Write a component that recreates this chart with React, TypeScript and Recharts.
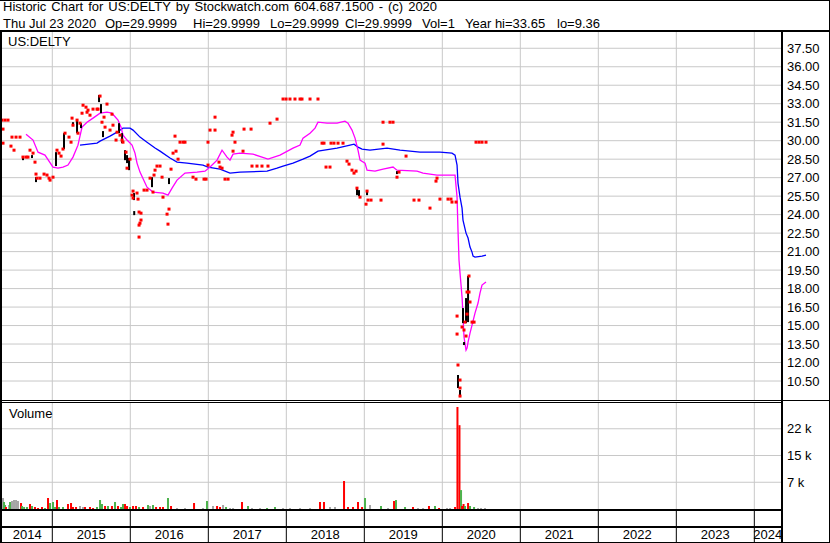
import {
  ComposedChart,
  Line,
  Scatter,
  ErrorBar,
  Bar,
  XAxis,
  YAxis,
  CartesianGrid,
  ReferenceLine,
} from 'recharts';

const FONT = '"Liberation Sans", Arial, sans-serif';

// time is in fractional years
const T_START = 2014.355;
const T_END = 2024.342;
const yearStarts = [2015, 2016, 2017, 2018, 2019, 2020, 2021, 2022, 2023, 2024];
const yearNames = [2014, 2015, 2016, 2017, 2018, 2019, 2020, 2021, 2022, 2023, 2024];
const priceTicks = [10.5, 12, 13.5, 15, 16.5, 18, 19.5, 21, 22.5, 24, 25.5, 27, 28.5, 30, 31.5, 33, 34.5, 36, 37.5];
const volumeTicks = [7500, 15000, 22500];

const titleText = 'Historic Chart for US:DELTY by Stockwatch.com 604.687.1500 - (c) 2020';
const quoteFields = [
  'Thu Jul 23 2020',
  'Op=29.9999',
  'Hi=29.9999',
  'Lo=29.9999',
  'Cl=29.9999',
  'Vol=1',
  'Year hi=33.65',
  'lo=9.36',
];
const quoteFieldLeft = [3, 105, 193, 270, 345, 422, 465, 557];

// daily closes [t, price]
const closes: [number, number][] = [
  [2014.355, 31.67], [2014.394, 31.67], [2014.432, 31.67], [2014.368, 30.94], [2014.368, 29.8],
  [2014.483, 30.29], [2014.535, 30.29], [2014.586, 30.29], [2014.47, 29.56], [2014.509, 29.23],
  [2014.624, 28.67], [2014.663, 28.67], [2014.688, 28.67], [2014.714, 29.23], [2014.753, 28.99],
  [2014.778, 28.26], [2014.791, 27.29], [2014.804, 26.96], [2014.842, 26.96], [2014.894, 27.29],
  [2014.932, 27.21], [2014.958, 26.96], [2014.971, 26.8], [2015.009, 27.04], [2015.06, 29.23],
  [2015.086, 28.99], [2015.112, 28.75], [2015.137, 29.32], [2015.163, 30.61], [2015.214, 30.29],
  [2015.24, 29.88], [2015.253, 31.83], [2015.265, 31.26], [2015.317, 31.67], [2015.329, 30.61],
  [2015.355, 31.42], [2015.381, 32.23], [2015.394, 32.88], [2015.432, 32.72], [2015.445, 32.31],
  [2015.458, 32.48], [2015.483, 32.07], [2015.522, 32.56], [2015.573, 32.56], [2015.586, 32.56],
  [2015.612, 33.62], [2015.637, 31.5], [2015.663, 31.91], [2015.676, 31.1], [2015.701, 32.97],
  [2015.74, 30.86], [2015.765, 32.15], [2015.778, 31.26], [2015.817, 30.05], [2015.83, 30.69],
  [2015.868, 30.45], [2015.894, 30.05], [2015.906, 29.88], [2015.945, 29.07], [2015.958, 27.77],
  [2015.996, 28.5], [2016.035, 25.91], [2016.022, 25.58], [2016.035, 25.34], [2016.086, 25.75],
  [2016.099, 25.26], [2016.112, 24.21], [2016.137, 24.12], [2016.137, 23.56], [2016.124, 23.31],
  [2016.112, 23.15], [2016.112, 22.18], [2016.176, 25.99], [2016.214, 25.99], [2016.253, 26.96],
  [2016.304, 27.21], [2016.317, 27.61], [2016.291, 25.83], [2016.342, 27.94], [2016.381, 27.94],
  [2016.407, 27.04], [2016.419, 25.42], [2016.471, 24.04], [2016.483, 23.23], [2016.496, 24.45],
  [2016.522, 27.69], [2016.548, 28.99], [2016.573, 30.37], [2016.586, 29.15], [2016.612, 28.5],
  [2016.637, 29.88], [2016.676, 29.88], [2016.701, 29.88], [2016.804, 27.04], [2016.842, 26.88],
  [2016.945, 26.88], [2016.971, 26.88], [2016.996, 29.88], [2016.996, 28.02], [2017.022, 30.86],
  [2017.086, 31.91], [2017.086, 30.86], [2017.137, 28.26], [2017.15, 27.86], [2017.176, 27.77],
  [2017.214, 26.88], [2017.253, 26.88], [2017.317, 30.69], [2017.304, 30.45], [2017.342, 29.88],
  [2017.317, 29.15], [2017.445, 29.15], [2017.458, 30.94], [2017.548, 30.94], [2017.56, 27.94],
  [2017.624, 27.94], [2017.688, 27.94], [2017.765, 27.94], [2017.791, 31.42], [2017.881, 31.75],
  [2017.958, 33.38], [2017.997, 33.38], [2018.047, 33.38], [2018.111, 33.38], [2018.176, 33.38],
  [2018.201, 33.38], [2018.304, 33.38], [2018.406, 33.38], [2018.458, 29.8], [2018.483, 29.8],
  [2018.573, 29.8], [2018.611, 29.8], [2018.663, 29.8], [2018.727, 29.8], [2018.509, 27.86],
  [2018.56, 27.86], [2018.778, 28.34], [2018.804, 28.1], [2018.842, 27.61], [2018.868, 27.37],
  [2018.894, 27.53], [2018.906, 26.15], [2018.945, 25.42], [2019.035, 25.91], [2019.022, 24.85],
  [2019.047, 25.18], [2019.086, 25.18], [2019.214, 25.18], [2019.24, 31.5], [2019.329, 31.5],
  [2019.368, 31.5], [2019.24, 29.72], [2019.419, 27.04], [2019.445, 27.45], [2019.535, 28.75],
  [2019.637, 25.18], [2019.701, 25.18], [2019.842, 24.53], [2019.919, 26.72], [2019.932, 26.96],
  [2019.97, 25.26], [2020.073, 25.26], [2020.111, 25.26], [2020.124, 25.02], [2020.176, 25.02],
  [2020.189, 15.77], [2020.189, 14.31], [2020.201, 11.8], [2020.227, 10.58], [2020.227, 9.93],
  [2020.227, 9.28], [2020.253, 14.88], [2020.278, 14.64], [2020.291, 15.28], [2020.304, 14.15],
  [2020.317, 17.72], [2020.317, 15.93], [2020.342, 19.02], [2020.342, 17.72], [2020.355, 16.91],
  [2020.381, 15.28], [2020.407, 15.28], [2020.432, 29.88], [2020.471, 29.88], [2020.509, 29.88],
  [2020.56, 29.88],
];

// days with a high-low range [t, high, low]
const ranges: [number, number, number][] = [
  [2014.624, 28.75, 28.42], [2014.74, 28.83, 28.59], [2014.791, 27.04, 26.64], [2015.047, 29.07, 27.94],
  [2015.15, 30.61, 29.32], [2015.265, 31.5, 31.18], [2015.317, 31.67, 30.61], [2015.368, 31.42, 31.02],
  [2015.599, 33.7, 33.13], [2015.624, 32.97, 32.23], [2015.65, 30.78, 30.29], [2015.855, 31.42, 30.61],
  [2015.894, 30.61, 29.8], [2015.932, 29.23, 28.42], [2015.958, 28.83, 28.18], [2015.983, 28.59, 27.61],
  [2016.047, 25.75, 25.18], [2016.05, 24.29, 23.96], [2016.278, 27.04, 26.23], [2016.496, 26.96, 26.48],
  [2018.906, 26.23, 25.58], [2018.932, 25.99, 25.5], [2019.035, 25.91, 25.58], [2019.419, 27.53, 27.29],
  [2020.201, 10.99, 9.93], [2020.227, 9.77, 9.2], [2020.265, 16.42, 15.2], [2020.278, 13.66, 13.42],
  [2020.304, 17.23, 15.2], [2020.33, 19.02, 15.28],
];

// long moving average [t, price]
const longAvg: [number, number][] = [
  [2015.355, 29.64], [2015.573, 29.8], [2015.612, 29.96], [2015.74, 30.37], [2015.83, 30.69],
  [2015.906, 31.02], [2015.996, 31.02], [2016.035, 30.86], [2016.124, 30.29], [2016.214, 29.88],
  [2016.317, 29.4], [2016.381, 29.15], [2016.509, 28.59], [2016.599, 28.26], [2016.727, 28.18],
  [2016.932, 28.02], [2016.996, 27.86], [2017.15, 27.69], [2017.278, 27.37], [2017.406, 27.45],
  [2017.753, 27.53], [2017.881, 27.77], [2017.958, 27.94], [2018.086, 28.18], [2018.214, 28.5],
  [2018.304, 28.75], [2018.406, 29.15], [2018.65, 29.4], [2018.817, 29.64], [2018.868, 29.72],
  [2018.919, 29.48], [2018.971, 29.32], [2019.073, 29.23], [2019.291, 29.4], [2019.458, 29.23],
  [2019.714, 29.07], [2019.97, 29.07], [2020.124, 28.99], [2020.163, 28.83], [2020.189, 28.02],
  [2020.201, 26.56], [2020.227, 25.42], [2020.253, 24.53], [2020.265, 23.56], [2020.304, 22.5],
  [2020.33, 22.1], [2020.355, 21.37], [2020.381, 20.96], [2020.394, 20.64], [2020.419, 20.56],
  [2020.509, 20.64], [2020.56, 20.72],
];

// short moving average [t, price]
const shortAvg: [number, number][] = [
  [2014.663, 30.53], [2014.753, 30.05], [2014.817, 29.07], [2014.906, 28.83], [2015.009, 27.86],
  [2015.073, 27.77], [2015.137, 27.86], [2015.201, 28.02], [2015.265, 28.67], [2015.329, 29.64],
  [2015.381, 31.1], [2015.445, 31.5], [2015.522, 31.83], [2015.612, 32.23], [2015.701, 32.31],
  [2015.765, 32.23], [2015.842, 31.67], [2015.881, 31.1], [2015.906, 30.45], [2015.958, 30.05],
  [2016.022, 29.64], [2016.06, 28.99], [2016.086, 28.18], [2016.124, 27.45], [2016.214, 26.23],
  [2016.291, 25.83], [2016.419, 25.75], [2016.483, 25.58], [2016.535, 26.15], [2016.599, 26.8],
  [2016.701, 27.37], [2016.855, 27.45], [2016.958, 27.53], [2017.022, 27.86], [2017.112, 28.42],
  [2017.176, 29.23], [2017.24, 28.67], [2017.278, 28.42], [2017.317, 28.91], [2017.406, 28.99],
  [2017.573, 28.91], [2017.765, 28.5], [2017.919, 28.83], [2018.086, 29.4], [2018.176, 29.64],
  [2018.214, 30.21], [2018.304, 30.61], [2018.368, 31.02], [2018.406, 31.5], [2018.522, 31.42],
  [2018.65, 31.42], [2018.752, 31.58], [2018.791, 31.42], [2018.842, 30.86], [2018.881, 30.21],
  [2018.919, 29.23], [2018.945, 28.42], [2019.009, 28.18], [2019.035, 27.61], [2019.137, 27.53],
  [2019.24, 27.69], [2019.368, 27.86], [2019.419, 27.61], [2019.676, 27.53], [2019.753, 27.37],
  [2019.932, 27.21], [2020.163, 27.21], [2020.189, 25.42], [2020.201, 22.75], [2020.214, 20.31],
  [2020.227, 19.26], [2020.253, 17.31], [2020.265, 15.85], [2020.278, 14.07], [2020.304, 13.01],
  [2020.317, 13.18], [2020.33, 13.66], [2020.355, 14.39], [2020.381, 15.04], [2020.419, 16.01],
  [2020.458, 16.83], [2020.483, 17.64], [2020.509, 18.29], [2020.56, 18.53],
];

// volume [t, shares, direction: u = up, d = down, n = unchanged]
const volumes: [number, number, string][] = [
  [2014.368, 3080, 'n'], [2014.381, 1960, 'u'], [2014.394, 1120, 'u'], [2014.406, 560, 'd'],
  [2014.445, 1120, 'n'], [2014.458, 1960, 'u'], [2014.483, 2240, 'n'], [2014.509, 2520, 'n'],
  [2014.535, 2520, 'n'], [2014.56, 2240, 'n'], [2014.599, 1680, 'd'], [2014.612, 840, 'u'],
  [2014.638, 560, 'u'], [2014.676, 560, 'u'], [2014.714, 1400, 'd'], [2014.74, 840, 'u'],
  [2014.778, 560, 'd'], [2014.817, 280, 'd'], [2014.868, 560, 'd'], [2014.906, 280, 'u'],
  [2014.945, 3080, 'd'], [2014.971, 1680, 'u'], [2015.009, 1960, 'u'], [2015.035, 560, 'u'],
  [2015.06, 2520, 'd'], [2015.086, 560, 'u'], [2015.137, 560, 'u'], [2015.201, 1400, 'd'],
  [2015.24, 1680, 'd'], [2015.265, 560, 'd'], [2015.304, 560, 'd'], [2015.355, 840, 'n'],
  [2015.394, 560, 'n'], [2015.419, 560, 'd'], [2015.483, 560, 'd'], [2015.522, 280, 'd'],
  [2015.573, 560, 'u'], [2015.612, 2520, 'u'], [2015.637, 1400, 'u'], [2015.676, 840, 'd'],
  [2015.714, 840, 'u'], [2015.765, 840, 'd'], [2015.804, 1960, 'u'], [2015.842, 840, 'd'],
  [2015.881, 560, 'u'], [2015.906, 1400, 'u'], [2015.932, 1400, 'd'], [2015.958, 840, 'd'],
  [2015.996, 560, 'u'], [2016.035, 840, 'd'], [2016.073, 840, 'd'], [2016.112, 560, 'u'],
  [2016.163, 560, 'd'], [2016.227, 1120, 'u'], [2016.253, 840, 'n'], [2016.291, 1120, 'u'],
  [2016.33, 560, 'd'], [2016.381, 560, 'd'], [2016.419, 560, 'd'], [2016.483, 3080, 'u'],
  [2016.522, 840, 'd'], [2016.599, 280, 'n'], [2016.701, 280, 'n'], [2016.817, 1680, 'd'],
  [2016.932, 280, 'n'], [2016.983, 2240, 'u'], [2017.06, 840, 'n'], [2017.112, 840, 'd'],
  [2017.15, 560, 'd'], [2017.189, 1120, 'n'], [2017.227, 560, 'u'], [2017.278, 280, 'n'],
  [2017.317, 280, 'n'], [2017.432, 1960, 'd'], [2017.509, 840, 'u'], [2017.56, 280, 'n'],
  [2017.663, 280, 'n'], [2017.753, 280, 'u'], [2017.855, 560, 'u'], [2017.958, 280, 'n'],
  [2018.047, 280, 'n'], [2018.176, 280, 'n'], [2018.304, 280, 'n'], [2018.432, 1960, 'd'],
  [2018.483, 1960, 'd'], [2018.56, 560, 'n'], [2018.624, 560, 'n'], [2018.74, 7850, 'd'],
  [2018.791, 560, 'd'], [2018.855, 560, 'd'], [2018.919, 1960, 'd'], [2018.971, 560, 'd'],
  [2019.009, 3080, 'u'], [2019.073, 1120, 'n'], [2019.214, 840, 'u'], [2019.304, 280, 'n'],
  [2019.381, 2240, 'd'], [2019.406, 2520, 'u'], [2019.522, 560, 'u'], [2019.624, 560, 'd'],
  [2019.688, 280, 'n'], [2019.753, 280, 'n'], [2019.829, 840, 'd'], [2019.906, 840, 'u'],
  [2019.958, 280, 'd'], [2020.06, 280, 'n'], [2020.099, 280, 'n'], [2020.163, 560, 'd'],
  [2020.194, 28600, 'd'], [2020.22, 23500, 'd'], [2020.24, 5300, 'u'], [2020.253, 840, 'd'],
  [2020.272, 1400, 'd'], [2020.291, 840, 'u'], [2020.33, 1680, 'd'], [2020.355, 840, 'u'],
  [2020.407, 560, 'u'], [2020.458, 280, 'n'], [2020.496, 280, 'n'], [2020.547, 280, 'n'],
];

const closeData = closes.map(([t, v]) => ({ t, v }));
const rangeData = ranges.map(([t, hi, lo]) => ({ t, v: hi, err: [hi - lo, 0] }));
const longAvgData = longAvg.map(([t, v]) => ({ t, v }));
const shortAvgData = shortAvg.map(([t, v]) => ({ t, v }));
const volumeData = volumes.map(([t, vol, dir]) => ({ t, vol, dir }));
const yearLabelData = yearNames.map((y) => ({
  t: (Math.max(y, T_START) + Math.min(y + 1, T_END)) / 2,
  v: 0.5,
  year: String(y),
}));

const VOL_COLORS: Record<string, string> = { u: '#4cb34c', d: '#ff0000', n: '#a6a6a6' };
const GRID = '#c8c8c8';
const tickStyle = { fill: '#000', fontSize: 13, fontFamily: FONT, textAnchor: 'start' as const };

const CloseMark = (p: any) => (
  <rect x={p.cx - 1.5} y={p.cy - 1.5} width={3} height={3} fill="#ff0000" />
);
const NoMark = () => <g />;
const VolumeBar = (p: any) => (
  <rect x={p.x + p.width / 2 - 1} y={p.y} width={2} height={p.height} fill={VOL_COLORS[p.payload.dir]} />
);
const YearLabel = (p: any) => (
  <text x={p.cx} y={p.cy} dy="0.35em" textAnchor="middle" fontSize={13} fontFamily={FONT} fill="#000">
    {p.payload.year}
  </text>
);

const line = (style: React.CSSProperties) => (
  <div style={{ position: 'absolute', background: '#000', ...style }} />
);

export default function App() {
  return (
    <div
      style={{
        position: 'absolute',
        left: 0,
        top: 0,
        width: 830,
        height: 543,
        background: '#fff',
        overflow: 'hidden',
        fontFamily: FONT,
        fontSize: 13,
        color: '#000',
      }}
    >
      <div style={{ position: 'absolute', left: 3, top: -1, lineHeight: '15px', whiteSpace: 'pre', wordSpacing: '1.4px' }}>
        {titleText}
      </div>
      {quoteFields.map((f, i) => (
        <div key={f} style={{ position: 'absolute', left: quoteFieldLeft[i], top: 16, lineHeight: '15px', whiteSpace: 'pre' }}>
          {f}
        </div>
      ))}

      <div style={{ position: 'absolute', left: 0, top: 31 }}>
        <ComposedChart width={830} height={369} margin={{ top: 0, right: 1, bottom: 0, left: 2 }}>
          <CartesianGrid stroke={GRID} verticalValues={yearStarts} horizontalValues={priceTicks} />
          <XAxis type="number" dataKey="t" domain={[T_START, T_END]} ticks={yearStarts} hide allowDataOverflow />
          <YAxis
            type="number"
            dataKey="v"
            orientation="right"
            width={48}
            domain={[8.96, 38.9]}
            ticks={priceTicks}
            interval={0}
            allowDataOverflow
            axisLine={false}
            tickLine={false}
            tickSize={0}
            tickMargin={6}
            tickFormatter={(v: number) => v.toFixed(2)}
            tick={tickStyle}
          />
          <Line data={longAvgData} dataKey="v" stroke="#0000ff" strokeWidth={1.3} dot={false} isAnimationActive={false} />
          <Line data={shortAvgData} dataKey="v" stroke="#ff00ff" strokeWidth={1.3} dot={false} isAnimationActive={false} />
          <Scatter data={rangeData} dataKey="v" shape={NoMark} isAnimationActive={false}>
            <ErrorBar dataKey="err" direction="y" width={0} stroke="#000" strokeWidth={2} isAnimationActive={false} />
          </Scatter>
          <Scatter data={closeData} dataKey="v" shape={CloseMark} isAnimationActive={false} />
        </ComposedChart>
      </div>

      <div style={{ position: 'absolute', left: 0, top: 402 }}>
        <ComposedChart width={830} height={107} data={volumeData} margin={{ top: 0, right: 1, bottom: 0, left: 2 }}>
          <CartesianGrid stroke={GRID} verticalValues={yearStarts} horizontalValues={volumeTicks} />
          <XAxis type="number" dataKey="t" domain={[T_START, T_END]} ticks={yearStarts} hide allowDataOverflow />
          <YAxis
            type="number"
            orientation="right"
            width={48}
            domain={[0, 30000]}
            ticks={volumeTicks}
            interval={0}
            allowDataOverflow
            axisLine={false}
            tickLine={false}
            tickSize={0}
            tickMargin={6}
            tickFormatter={(v: number) => `${Math.floor(v / 1000)} k`}
            tick={tickStyle}
          />
          <Bar dataKey="vol" shape={VolumeBar} isAnimationActive={false} />
        </ComposedChart>
      </div>

      <div style={{ position: 'absolute', left: 0, top: 510 }}>
        <ComposedChart width={830} height={33} margin={{ top: 0, right: 49, bottom: 0, left: 2 }}>
          <XAxis type="number" dataKey="t" domain={[T_START, T_END]} hide allowDataOverflow />
          <YAxis type="number" dataKey="v" domain={[0, 2]} hide />
          {yearStarts.map((y) => (
            <ReferenceLine key={y} x={y} stroke="#000" />
          ))}
          <Scatter data={yearLabelData} dataKey="v" shape={YearLabel} isAnimationActive={false} />
        </ComposedChart>
      </div>

      <div style={{ position: 'absolute', left: 8, top: 34, lineHeight: '15px' }}>US:DELTY</div>
      <div style={{ position: 'absolute', left: 9, top: 406, lineHeight: '15px' }}>Volume</div>

      {/* frame */}
      {line({ left: 0, top: 0, width: 830, height: 1 })}
      {line({ left: 829, top: 0, width: 1, height: 543 })}
      {line({ left: 0, top: 30, width: 830, height: 2 })}
      {line({ left: 0, top: 30, width: 2, height: 513 })}
      {line({ left: 781, top: 30, width: 2, height: 513 })}
      {line({ left: 0, top: 400, width: 830, height: 1 })}
      {line({ left: 2, top: 402, width: 780, height: 1 })}
      {line({ left: 2, top: 509, width: 780, height: 2 })}
      {line({ left: 2, top: 526, width: 780, height: 2 })}
      {line({ left: 0, top: 542, width: 830, height: 1 })}
    </div>
  );
}
